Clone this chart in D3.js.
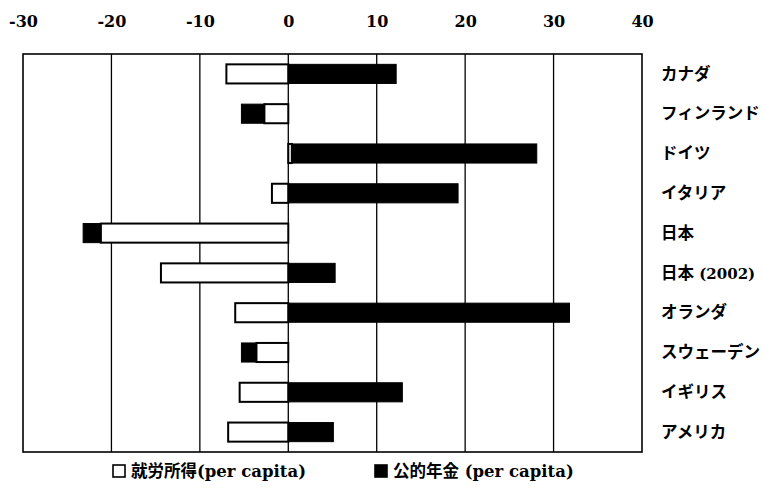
<!DOCTYPE html>
<html><head><meta charset="utf-8">
<script src="https://cdn.jsdelivr.net/npm/d3@7"></script>
<style>body{margin:0;background:#fff}</style>
</head><body>
<svg id="c" width="764" height="493"></svg>
<script>
const categories = ["カナダ","フィンランド","ドイツ","イタリア","日本","日本 (2002)","オランダ","スウェーデン","イギリス","アメリカ"];
const laborIncome = [-7.0,-2.7,0.4,-1.85,-21.2,-14.4,-6.0,-3.6,-5.5,-6.8];
const publicPension = [12.2,-2.6,27.7,19.2,-2.0,5.3,31.8,-1.7,12.9,5.1];
const tickValues = [-30,-20,-10,0,10,20,30,40];
const seriesNames = ["就労所得(per capita)","公的年金 (per capita)"];

const LATIN = "'DejaVu Serif','Liberation Serif',serif";
const CJK = "'Noto Sans CJK JP',sans-serif";
const svg = d3.select("#c");
const m = {left:23, right:642, top:54, bottom:452};
const x = d3.scaleLinear().domain([-30,40]).range([m.left,m.right]);
const y = d3.scaleBand().domain(categories).range([m.top,m.bottom]).paddingInner(0.52).paddingOuter(0.26);

const data = categories.map((c,i)=>({cat:c, labor:laborIncome[i], pension:publicPension[i]}));
const stack = d3.stack().keys(["labor","pension"]).offset(d3.stackOffsetDiverging);
const series = stack(data);

// mixed-script text helper
function mixed(sel, str, cjkSize, latinSize){
  const runs = str.match(/[\x00-\x7F]+|[^\x00-\x7F]+/g);
  runs.forEach(r=>{
    const ascii = /^[\x00-\x7F]+$/.test(r);
    sel.append("tspan").text(r)
      .style("font-family", ascii?LATIN:CJK)
      .style("font-weight","bold")
      .style("font-size", (ascii?latinSize:cjkSize)+"px");
  });
}

// gridlines
svg.append("g").selectAll("line").data(tickValues.slice(1,-1)).join("line")
  .attr("x1",d=>x(d)).attr("x2",d=>x(d)).attr("y1",m.top).attr("y2",m.bottom)
  .attr("stroke","#000").attr("stroke-width",1.3);

// bars
const fills = {labor:"#fff", pension:"#000"};
series.forEach(s=>{
  svg.append("g").selectAll("rect").data(s).join("rect")
    .attr("x",d=>x(Math.min(d[0],d[1])))
    .attr("width",d=>Math.abs(x(d[1])-x(d[0])))
    .attr("y",d=>y(d.data.cat))
    .attr("height",y.bandwidth())
    .attr("fill",fills[s.key])
    .attr("stroke","#000").attr("stroke-width",s.key==="labor"?2:1);
});

// frame
svg.append("rect").attr("x",m.left).attr("y",m.top).attr("width",m.right-m.left).attr("height",m.bottom-m.top)
  .attr("fill","none").attr("stroke","#000").attr("stroke-width",1.6);

// top axis labels
const ax = d3.axisTop(x).tickValues(tickValues).tickSize(0).tickPadding(0).tickFormat(d=>String(d));
const g = svg.append("g").attr("transform","translate(0,27)").call(ax);
g.select(".domain").remove();
g.attr("font-family",null).attr("font-size",null);
g.selectAll("text").style("font-family",LATIN).style("font-weight","bold")
  .style("font-size","16px").attr("fill","#000");

// category labels
svg.append("g").selectAll("text").data(categories).join("text")
  .attr("x",661).attr("y",d=>y(d)+y.bandwidth()/2).attr("dy","0.36em")
  .each(function(d){ mixed(d3.select(this), d, 16.5, 15); });

// legend
const leg = svg.append("g");
const legX = [113,375];
seriesNames.forEach((n,i)=>{
  leg.append("rect").attr("x",legX[i]).attr("y",465).attr("width",12).attr("height",12)
    .attr("fill",i===0?"#fff":"#000").attr("stroke","#000").attr("stroke-width",1.6);
  const t = leg.append("text").attr("x",legX[i]+18).attr("y",471).attr("dy","0.36em");
  mixed(t, n, 16.5, 16.5);
});
</script>
</body></html>
